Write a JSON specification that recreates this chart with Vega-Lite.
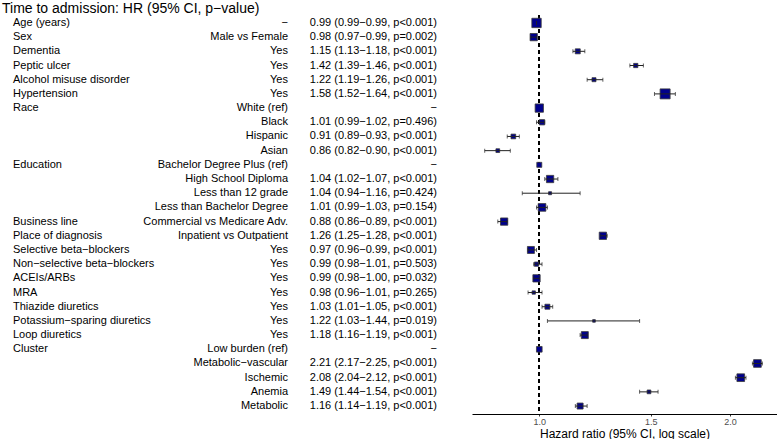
{
  "$schema": "https://vega.github.io/schema/vega-lite/v6.json",
  "padding": {"left": 0, "top": 2, "right": 0, "bottom": 0},
  "background": "white",
  "title": {"text": "Time to admission: HR (95% CI, p−value)", "anchor": "start", "fontSize": 14, "fontWeight": "normal", "font": "Liberation Sans", "color": "black", "offset": -2, "dx": 2},
  "config": {"view": {"stroke": null}, "font": "Liberation Sans", "concat": {"spacing": 0}},
  "data": {"values": [
    {"key": "Age", "variable": "Age (years)", "level": "−", "hr": 0.99, "lo": 0.99, "hi": 0.99, "label": "0.99 (0.99−0.99, p<0.001)", "weight": 0.88},
    {"key": "Sex", "variable": "Sex", "level": "Male vs Female", "hr": 0.98, "lo": 0.97, "hi": 0.99, "label": "0.98 (0.97−0.99, p=0.002)", "weight": 0.53},
    {"key": "Dementia", "variable": "Dementia", "level": "Yes", "hr": 1.15, "lo": 1.13, "hi": 1.18, "label": "1.15 (1.13−1.18, p<0.001)", "weight": 0.25},
    {"key": "Peptic", "variable": "Peptic ulcer", "level": "Yes", "hr": 1.42, "lo": 1.39, "hi": 1.46, "label": "1.42 (1.39−1.46, p<0.001)", "weight": 0.18},
    {"key": "Alcohol", "variable": "Alcohol misuse disorder", "level": "Yes", "hr": 1.22, "lo": 1.19, "hi": 1.26, "label": "1.22 (1.19−1.26, p<0.001)", "weight": 0.16},
    {"key": "Hypertension", "variable": "Hypertension", "level": "Yes", "hr": 1.58, "lo": 1.52, "hi": 1.64, "label": "1.58 (1.52−1.64, p<0.001)", "weight": 1.0},
    {"key": "Race White", "variable": "Race", "level": "White (ref)", "hr": 1.0, "lo": null, "hi": null, "label": "−", "weight": 0.69},
    {"key": "Race Black", "variable": "", "level": "Black", "hr": 1.01, "lo": 0.99, "hi": 1.02, "label": "1.01 (0.99−1.02, p=0.496)", "weight": 0.28},
    {"key": "Race Hispanic", "variable": "", "level": "Hispanic", "hr": 0.91, "lo": 0.89, "hi": 0.93, "label": "0.91 (0.89−0.93, p<0.001)", "weight": 0.22},
    {"key": "Race Asian", "variable": "", "level": "Asian", "hr": 0.86, "lo": 0.82, "hi": 0.90, "label": "0.86 (0.82−0.90, p<0.001)", "weight": 0.14},
    {"key": "Edu Bachelor", "variable": "Education", "level": "Bachelor Degree Plus (ref)", "hr": 1.0, "lo": null, "hi": null, "label": "−", "weight": 0.25},
    {"key": "Edu HS", "variable": "", "level": "High School Diploma", "hr": 1.04, "lo": 1.02, "hi": 1.07, "label": "1.04 (1.02−1.07, p<0.001)", "weight": 0.53},
    {"key": "Edu 12", "variable": "", "level": "Less than 12 grade", "hr": 1.04, "lo": 0.94, "hi": 1.16, "label": "1.04 (0.94−1.16, p=0.424)", "weight": 0.09},
    {"key": "Edu LessBach", "variable": "", "level": "Less than Bachelor Degree", "hr": 1.01, "lo": 0.99, "hi": 1.03, "label": "1.01 (0.99−1.03, p=0.154)", "weight": 0.59},
    {"key": "Business", "variable": "Business line", "level": "Commercial vs Medicare Adv.", "hr": 0.88, "lo": 0.86, "hi": 0.89, "label": "0.88 (0.86−0.89, p<0.001)", "weight": 0.53},
    {"key": "Place", "variable": "Place of diagnosis", "level": "Inpatient vs Outpatient", "hr": 1.26, "lo": 1.25, "hi": 1.28, "label": "1.26 (1.25−1.28, p<0.001)", "weight": 0.53},
    {"key": "SelBB", "variable": "Selective beta−blockers", "level": "Yes", "hr": 0.97, "lo": 0.96, "hi": 0.99, "label": "0.97 (0.96−0.99, p<0.001)", "weight": 0.49},
    {"key": "NonSelBB", "variable": "Non−selective beta−blockers", "level": "Yes", "hr": 0.99, "lo": 0.98, "hi": 1.01, "label": "0.99 (0.98−1.01, p=0.503)", "weight": 0.18},
    {"key": "ACEI", "variable": "ACEIs/ARBs", "level": "Yes", "hr": 0.99, "lo": 0.98, "hi": 1.0, "label": "0.99 (0.98−1.00, p=0.032)", "weight": 0.53},
    {"key": "MRA", "variable": "MRA", "level": "Yes", "hr": 0.98, "lo": 0.96, "hi": 1.01, "label": "0.98 (0.96−1.01, p=0.265)", "weight": 0.11},
    {"key": "Thiazide", "variable": "Thiazide diuretics", "level": "Yes", "hr": 1.03, "lo": 1.01, "hi": 1.05, "label": "1.03 (1.01−1.05, p<0.001)", "weight": 0.25},
    {"key": "Potassium", "variable": "Potassium−sparing diuretics", "level": "Yes", "hr": 1.22, "lo": 1.03, "hi": 1.44, "label": "1.22 (1.03−1.44, p=0.019)", "weight": 0.07},
    {"key": "Loop", "variable": "Loop diuretics", "level": "Yes", "hr": 1.18, "lo": 1.16, "hi": 1.19, "label": "1.18 (1.16−1.19, p<0.001)", "weight": 0.49},
    {"key": "Cluster Low", "variable": "Cluster", "level": "Low burden (ref)", "hr": 1.0, "lo": null, "hi": null, "label": "−", "weight": 0.32},
    {"key": "Cluster MV", "variable": "", "level": "Metabolic−vascular", "hr": 2.21, "lo": 2.17, "hi": 2.25, "label": "2.21 (2.17−2.25, p<0.001)", "weight": 0.59},
    {"key": "Cluster Isch", "variable": "", "level": "Ischemic", "hr": 2.08, "lo": 2.04, "hi": 2.12, "label": "2.08 (2.04−2.12, p<0.001)", "weight": 0.59},
    {"key": "Cluster Anemia", "variable": "", "level": "Anemia", "hr": 1.49, "lo": 1.44, "hi": 1.54, "label": "1.49 (1.44−1.54, p<0.001)", "weight": 0.14},
    {"key": "Cluster Metabolic", "variable": "", "level": "Metabolic", "hr": 1.16, "lo": 1.14, "hi": 1.19, "label": "1.16 (1.14−1.19, p<0.001)", "weight": 0.36}
  ]},
  "hconcat": [
    {
      "width": 472,
      "height": 399,
      "encoding": {
        "y": {"field": "key", "type": "nominal", "sort": null, "axis": null, "scale": {"type": "point", "padding": 0.56}}
      },
      "layer": [
        {"mark": {"type": "text", "align": "left", "baseline": "middle", "fontSize": 11, "color": "black", "font": "Liberation Sans"},
         "encoding": {"x": {"value": 13}, "text": {"field": "variable"}}},
        {"mark": {"type": "text", "align": "right", "baseline": "middle", "fontSize": 11, "color": "black", "font": "Liberation Sans"},
         "encoding": {"x": {"value": 288}, "text": {"field": "level"}}},
        {"mark": {"type": "text", "align": "right", "baseline": "middle", "fontSize": 11, "color": "black", "font": "Liberation Sans"},
         "encoding": {"x": {"value": 437}, "text": {"field": "label"}}}
      ]
    },
    {
      "width": 305,
      "height": 399,
      "encoding": {
        "y": {"field": "key", "type": "nominal", "sort": null, "axis": null, "scale": {"type": "point", "padding": 0.56}}
      },
      "layer": [
        {"mark": {"type": "rule", "color": "black", "strokeWidth": 1.2, "strokeDash": [4, 3]},
         "encoding": {"x": {"datum": 1, "type": "quantitative", "scale": {"type": "log", "domain": [0.783, 2.373], "nice": false}}, "y": null}},
        {"mark": {"type": "square", "filled": true, "color": "#00008B", "stroke": "#3a3a3a", "strokeWidth": 0.8, "opacity": 1},
         "encoding": {
           "x": {"field": "hr", "type": "quantitative", "scale": {"type": "log", "domain": [0.783, 2.373], "nice": false},
             "axis": {"values": [1, 1.5, 2], "format": ".1f", "title": "Hazard ratio (95% CI, log scale)", "titleFont": "Liberation Sans", "titleFontSize": 12, "titleFontWeight": "normal", "titleColor": "black", "titlePadding": 2, "labelFont": "Liberation Sans", "labelFontSize": 9, "labelColor": "#4D4D4D", "labelPadding": 1, "tickSize": 2, "tickColor": "#333", "domainColor": "black", "domainWidth": 1.2, "grid": false}},
           "size": {"field": "weight", "type": "quantitative", "legend": null, "scale": {"type": "linear", "domain": [0, 1], "range": [0, 100], "zero": true}}
         }},
        {"transform": [{"filter": "datum.lo != null"}],
         "mark": {"type": "rule", "color": "#222", "strokeWidth": 1},
         "encoding": {"x": {"field": "lo", "type": "quantitative"}, "x2": {"field": "hi"}}},
        {"transform": [{"filter": "datum.lo != null"}],
         "mark": {"type": "tick", "color": "#222", "thickness": 1, "size": 4, "orient": "vertical"},
         "encoding": {"x": {"field": "lo", "type": "quantitative"}}},
        {"transform": [{"filter": "datum.lo != null"}],
         "mark": {"type": "tick", "color": "#222", "thickness": 1, "size": 4, "orient": "vertical"},
         "encoding": {"x": {"field": "hi", "type": "quantitative"}}}
      ]
    }
  ]
}
